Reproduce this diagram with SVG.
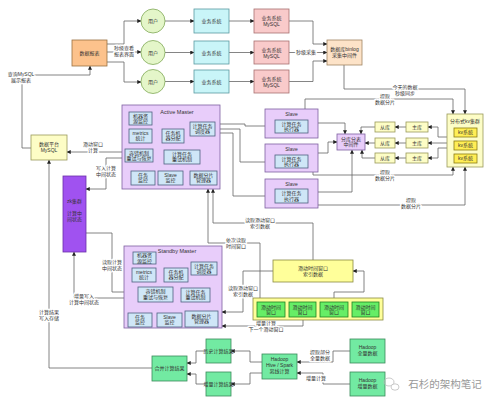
<svg xmlns="http://www.w3.org/2000/svg" width="500" height="413" viewBox="0 0 500 413">
<defs>
<marker id="a" viewBox="0 0 6 6" refX="5.6" refY="3" markerWidth="4" markerHeight="4" markerUnits="userSpaceOnUse" orient="auto"><path d="M0,0L6,3L0,6z" fill="#222"/></marker>
<style>
text{font-family:"Liberation Sans","Noto Sans CJK SC",sans-serif;font-size:5px;fill:#333;text-anchor:middle}
.lbl{paint-order:stroke;stroke:#fff;stroke-width:2.5px;stroke-linejoin:round}
.c path{fill:none;stroke:#666;stroke-width:0.8;marker-end:url(#a)}
.org{fill:#fcc28c;stroke:#9a7040;stroke-width:0.8}
.usr{fill:#e4f6c9;stroke:#80a858;stroke-width:0.8}
.cyn{fill:#c9f5f8;stroke:#5a9aa0;stroke-width:0.8}
.pnk{fill:#f9caca;stroke:#a87070;stroke-width:0.8}
.pch{fill:#fde3c8;stroke:#a08462;stroke-width:0.8}
.ylw{fill:#fdfdc6;stroke:#9a9a5a;stroke-width:0.8}
.pur{fill:#e8cdfa;stroke:#7e60a0;stroke-width:0.8}
.blu{fill:#cfe6f7;stroke:#4f6080;stroke-width:0.8}
.zk{fill:#a052f0;stroke:#6a30a8;stroke-width:0.8}
.kv{fill:#ffee55;stroke:#8a7a10;stroke-width:0.8}
.yb{fill:#ffff9a;stroke:#8a8a40;stroke-width:0.8}
.gw{fill:#66ee66;stroke:#208020;stroke-width:0.8}
.mnt{fill:#72eaa2;stroke:#3a8a5a;stroke-width:0.8}
.ttl{font-size:5.5px}
</style>
</defs>
<rect width="500" height="413" fill="#fff"/>

<g id="connectors" class="c">
<path d="M107,44H124V21H141"/>
<path d="M107,52H141"/>
<path d="M107,62H124V82H141"/>
<path d="M165,21H194"/><path d="M165,52.5H194"/><path d="M165,81.5H194"/>
<path d="M229,21H254"/><path d="M229,52.5H254"/><path d="M229,81.5H254"/>
<path d="M289,21H313V44H327"/>
<path d="M289,52.5H327"/>
<path d="M289,81.5H313V61H327"/>
<path d="M344,65V89H465V114"/>
<path d="M305,109V99H453V114"/>
<path d="M31,148H22V75H90V66"/>
<path d="M125,152H67"/>
<path d="M125,158H106V189H86"/>
<path d="M215,124H245V126H275"/>
<path d="M215,129H240V162H275"/>
<path d="M215,133H233V196H275"/>
<path d="M318,123H345V134"/>
<path d="M318,153H328V142H337"/>
<path d="M318,192H352V150"/>
<path d="M375,127H361V134"/>
<path d="M375,143H365"/>
<path d="M375,158H362V150"/>
<path d="M406,127H395"/><path d="M406,143H395"/><path d="M406,158H395"/>
<path d="M447,137H438V127H428"/>
<path d="M447,143H428"/>
<path d="M447,148H438V158H428"/>
<path d="M313,172V175H453V167"/>
<path d="M318,205H465V167"/>
<path d="M152,119H170V126H190"/>
<path d="M152,136H162"/>
<path d="M184,140H203V136"/>
<path d="M200,157H212V136"/>
<path d="M143,171V167H168V164"/>
<path d="M172,171V168H183V164"/>
<path d="M156,258H172V266H191"/>
<path d="M156,275H164"/>
<path d="M188,279H204V275"/>
<path d="M210,295H213V275"/>
<path d="M140,313V308H188V302"/>
<path d="M170,313V310H200V302"/>
<path d="M313,260V223H213V189"/>
<path d="M260,302V243H208V189"/>
<path d="M334,302V292H364V271H353"/>
<path d="M303,317V326H222"/>
<path d="M273,271H243V312H222"/>
<path d="M86,233H112V292H138"/>
<path d="M138,298H74V252"/>
<path d="M152,368H49V160"/>
<path d="M262,362H250V351H231"/>
<path d="M262,373H250V384H231"/>
<path d="M206,351H196V363H187"/>
<path d="M206,384H196V374H187"/>
<path d="M350,351H333V362H297"/>
<path d="M350,384H323V373H297"/>
</g>

<g id="labels">
<text class="lbl" x="124" y="50">秒级查看<tspan x="124" dy="6">报表界面</tspan></text>
<text class="lbl" x="306" y="54">秒级采集</text>
<text class="lbl" x="405" y="89">今天的数据<tspan x="405" dy="6">秒级同步</tspan></text>
<text class="lbl" x="385" y="98">提取<tspan x="385" dy="6">数据分片</tspan></text>
<text class="lbl" x="21" y="76">查询MySQL<tspan x="21" dy="6">展示报表</tspan></text>
<text class="lbl" x="93" y="146">滑动窗口<tspan x="93" dy="6">计算</tspan></text>
<text class="lbl" x="106" y="170">写入计算<tspan x="106" dy="6">中间状态</tspan></text>
<text class="lbl" x="385" y="174">提取<tspan x="385" dy="6">数据分片</tspan></text>
<text class="lbl" x="411" y="202">提取<tspan x="411" dy="6">数据分片</tspan></text>
<text class="lbl" x="260" y="222">读取滑动窗口<tspan x="260" dy="6">索引数据</tspan></text>
<text class="lbl" x="236" y="242">依次读取<tspan x="236" dy="6">时间窗口</tspan></text>
<text class="lbl" x="243" y="290">读取滑动窗口<tspan x="243" dy="6">索引数据</tspan></text>
<text class="lbl" x="266" y="325">增量计算<tspan x="266" dy="6">下一个滑动窗口</tspan></text>
<text class="lbl" x="112" y="264">读取计算<tspan x="112" dy="6">中间状态</tspan></text>
<text class="lbl" x="84" y="298">增量写入<tspan x="84" dy="6">计算中间状态</tspan></text>
<text class="lbl" x="49" y="314">计算结果<tspan x="49" dy="6">写入存储</tspan></text>
<text class="lbl" x="320" y="354">提取部分<tspan x="320" dy="6">全量数据</tspan></text>
<text class="lbl" x="316" y="380">增量计算</text>
</g>

<g id="report"><rect class="org" x="72" y="40" width="35" height="26"/><text x="89.5" y="55">数据报表</text></g>
<g id="user1"><circle class="usr" cx="153" cy="21" r="12"/><text x="153" y="23">用户</text></g>
<g id="user2"><circle class="usr" cx="153" cy="52.5" r="12"/><text x="153" y="54.5">用户</text></g>
<g id="user3"><circle class="usr" cx="153" cy="81.5" r="12"/><text x="153" y="83.5">用户</text></g>
<g id="biz1"><rect class="cyn" x="194" y="9" width="35" height="24"/><text x="211.5" y="23">业务系统</text></g>
<g id="biz2"><rect class="cyn" x="194" y="41" width="35" height="23"/><text x="211.5" y="54.5">业务系统</text></g>
<g id="biz3"><rect class="cyn" x="194" y="70" width="35" height="23"/><text x="211.5" y="83.5">业务系统</text></g>
<g id="db1"><rect class="pnk" x="254" y="9" width="35" height="24"/><text x="271.5" y="20">业务系统<tspan x="271.5" dy="6">MySQL</tspan></text></g>
<g id="db2"><rect class="pnk" x="254" y="41" width="35" height="23"/><text x="271.5" y="51.5">业务系统<tspan x="271.5" dy="6">MySQL</tspan></text></g>
<g id="db3"><rect class="pnk" x="254" y="70" width="35" height="23"/><text x="271.5" y="80.5">业务系统<tspan x="271.5" dy="6">MySQL</tspan></text></g>
<g id="binlog"><rect class="pch" x="327" y="40" width="35" height="25"/><text x="344.5" y="51">数据库binlog<tspan x="344.5" dy="6">采集中间件</tspan></text></g>
<g id="platformdb"><rect class="ylw" x="31" y="135" width="36" height="25"/><text x="49" y="146">数据平台<tspan x="49" dy="6">MySQL</tspan></text></g>
<g id="zk"><rect class="zk" x="63" y="176" width="23" height="76"/><text x="74.5" y="203">zk集群<tspan x="74.5" dy="12">计算中</tspan><tspan x="74.5" dy="6">间状态</tspan></text></g>

<g id="active-master">
<rect class="pur" x="122" y="105" width="98" height="84"/>
<text class="ttl" x="177" y="114">Active Master</text>
<rect class="blu" x="129" y="112" width="23" height="13"/><text x="140.5" y="117.5">机器资<tspan x="140.5" dy="5.5">源监控</tspan></text>
<rect class="blu" x="129" y="129" width="23" height="14"/><text x="140.5" y="134.5">metrics<tspan x="140.5" dy="5.5">统计</tspan></text>
<rect class="blu" x="162" y="129" width="22" height="14"/><text x="173" y="134.5">任务机<tspan x="173" dy="5.5">器分配</tspan></text>
<rect class="blu" x="190" y="122" width="25" height="14"/><text x="202.5" y="127.5">计算任务<tspan x="202.5" dy="5.5">调度器</tspan></text>
<rect class="blu" x="125" y="149" width="28" height="13"/><text x="139" y="154.5">容错机制<tspan x="139" dy="5.5">重试与恢复</tspan></text>
<rect class="blu" x="164" y="150" width="36" height="14"/><text x="182" y="155.5">计算任务<tspan x="182" dy="5.5">重试机制</tspan></text>
<rect class="blu" x="131" y="171" width="24" height="14"/><text x="143" y="176.5">任务<tspan x="143" dy="5.5">监控</tspan></text>
<rect class="blu" x="158" y="171" width="25" height="14"/><text x="170.5" y="176.5">Slave<tspan x="170.5" dy="5.5">监控</tspan></text>
<rect class="blu" x="190" y="171" width="27" height="14"/><text x="203.5" y="176.5">数据分片<tspan x="203.5" dy="5.5">管理器</tspan></text>
</g>

<g id="slave1"><rect class="pur" x="265" y="109" width="53" height="29"/><text x="291.5" y="116">Slave</text><rect class="blu" x="275" y="120" width="33" height="13"/><text x="291.5" y="125.5">计算任务<tspan x="291.5" dy="5.5">执行器</tspan></text></g>
<g id="slave2"><rect class="pur" x="265" y="144" width="53" height="28"/><text x="291.5" y="151">Slave</text><rect class="blu" x="275" y="155" width="33" height="13"/><text x="291.5" y="160.5">计算任务<tspan x="291.5" dy="5.5">执行器</tspan></text></g>
<g id="slave3"><rect class="pur" x="265" y="179" width="53" height="29"/><text x="291.5" y="186">Slave</text><rect class="blu" x="275" y="189" width="33" height="14"/><text x="291.5" y="195">计算任务<tspan x="291.5" dy="5.5">执行器</tspan></text></g>

<g id="sharding"><rect class="pur" x="337" y="134" width="28" height="16"/><text x="351" y="140.5">分库分表<tspan x="351" dy="5.5">中间件</tspan></text></g>
<g id="slave-db1"><rect class="ylw" x="375" y="122" width="20" height="10"/><text x="385" y="128.8">从库</text></g>
<g id="slave-db2"><rect class="ylw" x="375" y="138" width="20" height="10"/><text x="385" y="144.8">从库</text></g>
<g id="slave-db3"><rect class="ylw" x="375" y="153" width="20" height="10"/><text x="385" y="159.8">从库</text></g>
<g id="master-db1"><rect class="ylw" x="406" y="122" width="22" height="10"/><text x="417" y="128.8">主库</text></g>
<g id="master-db2"><rect class="ylw" x="406" y="138" width="22" height="10"/><text x="417" y="144.8">主库</text></g>
<g id="master-db3"><rect class="ylw" x="406" y="153" width="22" height="10"/><text x="417" y="159.8">主库</text></g>
<g id="kv-cluster">
<rect class="ylw" x="447" y="114" width="36" height="53"/>
<text x="465" y="123">分布式kv集群</text>
<rect class="kv" x="454" y="128" width="23" height="9"/><text x="465.5" y="134.3">kv系统</text>
<rect class="kv" x="454" y="141" width="23" height="9"/><text x="465.5" y="147.3">kv系统</text>
<rect class="kv" x="454" y="154" width="23" height="9"/><text x="465.5" y="160.3">kv系统</text>
</g>

<g id="standby-master">
<rect class="pur" x="124" y="246" width="98" height="82"/>
<text class="ttl" x="177" y="253">Standby Master</text>
<rect class="blu" x="133" y="252" width="23" height="12"/><text x="144.5" y="257">机器资<tspan x="144.5" dy="5.5">源监控</tspan></text>
<rect class="blu" x="132" y="268" width="24" height="14"/><text x="144" y="273.5">metrics<tspan x="144" dy="5.5">统计</tspan></text>
<rect class="blu" x="164" y="268" width="24" height="14"/><text x="176" y="273.5">任务机<tspan x="176" dy="5.5">器分配</tspan></text>
<rect class="blu" x="191" y="262" width="26" height="13"/><text x="204" y="267.5">计算任务<tspan x="204" dy="5.5">调度器</tspan></text>
<rect class="blu" x="138" y="287" width="35" height="15"/><text x="155.5" y="293">容错机制<tspan x="155.5" dy="5.5">重试与恢复</tspan></text>
<rect class="blu" x="181" y="288" width="29" height="14"/><text x="195.5" y="293.5">计算任务<tspan x="195.5" dy="5.5">重试机制</tspan></text>
<rect class="blu" x="128" y="313" width="24" height="14"/><text x="140" y="318.5">任务<tspan x="140" dy="5.5">监控</tspan></text>
<rect class="blu" x="157" y="313" width="25" height="14"/><text x="169.5" y="318.5">Slave<tspan x="169.5" dy="5.5">监控</tspan></text>
<rect class="blu" x="185" y="311" width="33" height="16"/><text x="201.5" y="317.5">数据分片<tspan x="201.5" dy="5.5">管理器</tspan></text>
</g>

<g id="window-index"><rect class="yb" x="273" y="260" width="80" height="22"/><text x="313" y="269.5">滑动时间窗口<tspan x="313" dy="6">索引数据</tspan></text></g>
<g id="windows">
<rect class="yb" x="253" y="298" width="130" height="22"/>
<rect class="gw" x="257" y="302" width="28" height="15"/><text x="271" y="308.5">滑动时间<tspan x="271" dy="5.5">窗口</tspan></text>
<rect class="gw" x="289" y="302" width="27" height="15"/><text x="302.5" y="308.5">滑动时间<tspan x="302.5" dy="5.5">窗口</tspan></text>
<rect class="gw" x="320" y="302" width="28" height="15"/><text x="334" y="308.5">滑动时间<tspan x="334" dy="5.5">窗口</tspan></text>
<rect class="gw" x="352" y="302" width="27" height="15"/><text x="365.5" y="308.5">滑动时间<tspan x="365.5" dy="5.5">窗口</tspan></text>
</g>

<g id="history"><rect class="mnt" x="206" y="339" width="25" height="24"/><text x="218.5" y="353">历史计算结果</text></g>
<g id="incr-result"><rect class="mnt" x="206" y="372" width="25" height="24"/><text x="218.5" y="386">增量计算结果</text></g>
<g id="merge"><rect class="mnt" x="152" y="356" width="35" height="25"/><text x="169.5" y="370">合并计算结果</text></g>
<g id="hive"><rect class="mnt" x="262" y="354" width="35" height="25"/><text x="279.5" y="361">Hadoop<tspan x="279.5" dy="5.8">Hive / Spark</tspan><tspan x="279.5" dy="5.8">离线计算</tspan></text></g>
<g id="hadoop-full"><rect class="mnt" x="350" y="339" width="35" height="24"/><text x="367.5" y="349">Hadoop<tspan x="367.5" dy="6">全量数据</tspan></text></g>
<g id="hadoop-incr"><rect class="mnt" x="350" y="372" width="35" height="24"/><text x="367.5" y="382">Hadoop<tspan x="367.5" dy="6">增量数据</tspan></text></g>

<g id="watermark">
<ellipse cx="389" cy="382" rx="5" ry="4" fill="none" stroke="#bbb" stroke-width="0.8"/>
<ellipse cx="395" cy="387" rx="4" ry="3.2" fill="#fff" stroke="#bbb" stroke-width="0.8"/>
<text x="445" y="388" style="font-size:10.5px;fill:#999">石杉的架构笔记</text>
</g>
</svg>
